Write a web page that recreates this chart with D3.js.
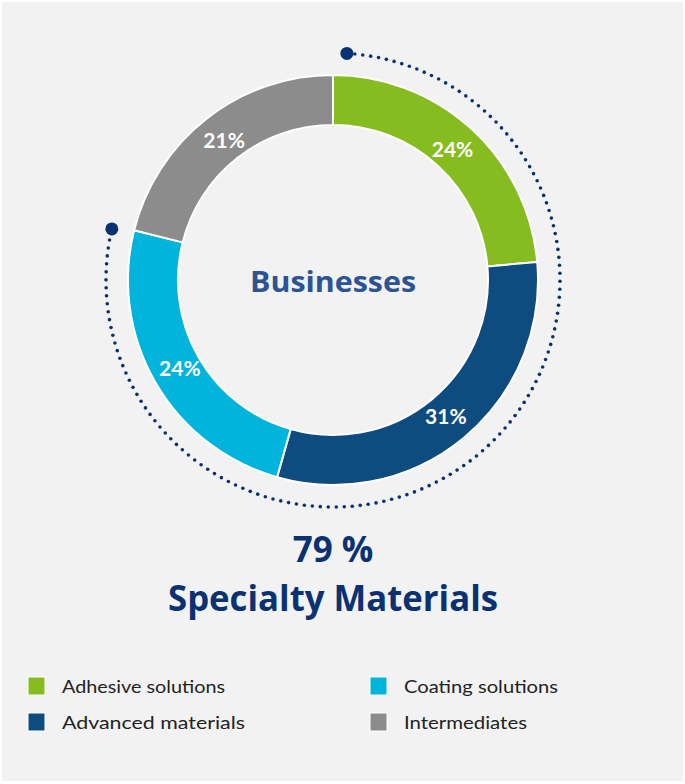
<!DOCTYPE html>
<html><head><meta charset="utf-8">
<script src="https://cdn.jsdelivr.net/npm/d3@7"></script>
<style>body{margin:0;background:#fff;}svg{display:block;}</style>
</head><body>
<svg id="chart" width="685" height="784"></svg>
<script>
const categories = ["Adhesive solutions", "Advanced materials", "Coating solutions", "Intermediates"];
const values = [23.6, 30.8, 24.5, 21.1];
const labels = ["24%", "31%", "24%", "21%"];
const colors = ["#86bc1f", "#0e4c80", "#00b4dc", "#8c8c8c"];
const centerTitle = "Businesses";
const footLines = ["79 %", "Specialty Materials"];
const legendOrder = [0, 2, 1, 3];
const legendWidths = [163, 154, 183, 123];

const svg = d3.select("#chart");
svg.append("rect").attr("x", 2).attr("y", 2).attr("width", 681).attr("height", 779).attr("fill", "#f2f2f2");

const cx = 333, cy = 280, rOuter = 205, rInner = 155;
const g = svg.append("g").attr("transform", `translate(${cx},${cy})`);
const pie = d3.pie().sort(null).value(d => d);
const arcs = pie(values);
const arc = d3.arc().innerRadius(rInner).outerRadius(rOuter);
g.selectAll("path.seg").data(arcs).join("path").attr("class", "seg")
  .attr("d", arc).attr("fill", (d, i) => colors[i]).attr("stroke", "#fff").attr("stroke-width", 2);

const labelArc = d3.arc().innerRadius(177).outerRadius(177);
g.selectAll("text.pct").data(arcs).join("text").attr("class", "pct")
  .attr("transform", d => { const c = labelArc.centroid(d); return `translate(${c[0]},${c[1]})`; })
  .attr("text-anchor", "middle").attr("dy", "0.36em")
  .attr("font-family", "Lato, 'Open Sans', sans-serif").attr("font-weight", "bold")
  .attr("font-size", 21).attr("fill", "#fff").text((d, i) => labels[i]);

// dotted arc
const rDot = 227;
const a0 = 3.5 * Math.PI / 180, a1 = 283 * Math.PI / 180;
const step = 8 / rDot;
const dots = d3.range(a0 + step, a1, step);
g.selectAll("circle.dot").data(dots).join("circle").attr("class", "dot")
  .attr("cx", a => rDot * Math.sin(a)).attr("cy", a => -rDot * Math.cos(a)).attr("r", 1.8).attr("fill", "#0a3272");
[a0, a1].forEach(a => g.append("circle").attr("cx", rDot * Math.sin(a)).attr("cy", -rDot * Math.cos(a)).attr("r", 6.5).attr("fill", "#0a3272"));

g.append("text").attr("text-anchor", "middle").attr("y", 12)
  .attr("font-family", "'Open Sans', sans-serif").attr("font-weight", "bold")
  .attr("font-size", 29).attr("fill", "#2c5495").attr("textLength", 166).attr("lengthAdjust", "spacingAndGlyphs").text(centerTitle);

const foot = svg.append("g").attr("fill", "#0a3272").attr("font-family", "'Open Sans', sans-serif").attr("font-weight", "bold").attr("text-anchor", "middle");
foot.append("text").attr("x", 333).attr("y", 562).attr("font-size", 35).text(footLines[0]);
foot.append("text").attr("x", 333).attr("y", 611).attr("font-size", 35).attr("textLength", 330).attr("lengthAdjust", "spacingAndGlyphs").text(footLines[1]);

const lx = d3.scaleOrdinal().domain([0, 1]).range([28, 370]);
const ly = d3.scaleOrdinal().domain([0, 1]).range([677, 713]);
const leg = svg.append("g");
legendOrder.forEach((ci, k) => {
  const colIdx = k % 2, rowIdx = Math.floor(k / 2);
  const x = lx(colIdx), y = ly(rowIdx);
  leg.append("rect").attr("x", x).attr("y", y).attr("width", 17).attr("height", 18).attr("fill", colors[ci]).attr("stroke", "#fff").attr("stroke-width", 1);
  leg.append("text").attr("x", x + 34).attr("y", y + 16).attr("font-family", "Lato, sans-serif").attr("font-size", 18)
    .attr("fill", "#222").attr("textLength", legendWidths[k]).attr("lengthAdjust", "spacingAndGlyphs").text(categories[ci]);
});
</script>
</body></html>
